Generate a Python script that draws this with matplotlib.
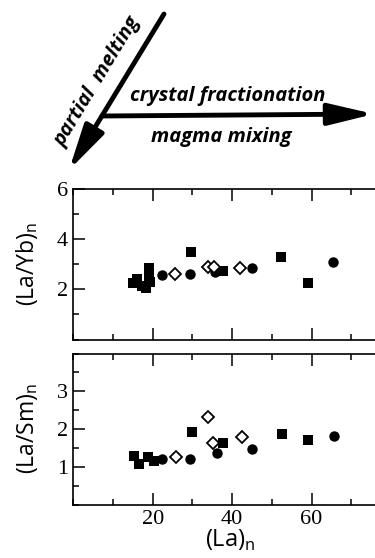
import numpy as np
import matplotlib
matplotlib.use('Agg')
from matplotlib import pyplot as plt
from matplotlib.patches import FancyArrowPatch
from matplotlib.ticker import MultipleLocator

# (La)n vs (La/Yb)n -- upper panel
sq_la_yb = [15.0, 16.0, 17.2, 18.3, 19.0, 19.0, 19.2, 29.6, 37.8, 52.3, 59.0]
sq_yb = [2.25, 2.40, 2.15, 2.05, 2.85, 2.55, 2.30, 3.50, 2.73, 3.27, 2.25]
ci_la_yb = [22.4, 29.4, 35.8, 45.1, 65.5]
ci_yb = [2.58, 2.62, 2.70, 2.87, 3.07]
di_la_yb = [25.6, 34.0, 35.5, 41.9]
di_yb = [2.62, 2.91, 2.90, 2.87]

# (La)n vs (La/Sm)n -- lower panel
sq_la_sm = [15.3, 16.6, 18.7, 20.2, 29.8, 37.8, 52.5, 59.2]
sq_sm = [1.28, 1.08, 1.26, 1.15, 1.91, 1.62, 1.86, 1.71]
ci_la_sm = [22.4, 29.3, 36.2, 45.1, 65.7]
ci_sm = [1.21, 1.21, 1.36, 1.46, 1.81]
di_la_sm = [25.8, 34.0, 35.3, 42.4]
di_sm = [1.27, 2.32, 1.62, 1.79]

W, H = 375, 558
fig = plt.figure(figsize=(W / 100, H / 100), dpi=100)


def fx(x):
    return x / W


def fy(y):
    return 1 - y / H


left, right = 73.3, 387.0
ax1 = fig.add_axes([fx(left), fy(339.5), fx(right - left), (339.5 - 189.0) / H])
ax2 = fig.add_axes([fx(left), fy(504.5), fx(right - left), (504.5 - 353.5) / H])

serif = 'Liberation Serif'
sans = 'Open Sans'

ms_sq, ms_ci, ms_di = 7, 7.5, 6.6
ax1.plot(sq_la_yb, sq_yb, 's', color='black', ms=ms_sq, mew=0)
ax1.plot(ci_la_yb, ci_yb, 'o', color='black', ms=ms_ci, mew=0)
ax1.plot(di_la_yb, di_yb, 'D', mfc='white', mec='black', ms=ms_di, mew=1.3)
ax1.set_ylim(0, 6)
ax1.set_yticks([2, 4, 6])
ax1.yaxis.set_minor_locator(MultipleLocator(1))
ax1.tick_params(labelbottom=False)
ax1.set_ylabel('(La/Yb)$_\\mathregular{n}$', fontsize=16.5, family=sans, labelpad=12)

ax2.plot(sq_la_sm, sq_sm, 's', color='black', ms=ms_sq, mew=0)
ax2.plot(ci_la_sm, ci_sm, 'o', color='black', ms=ms_ci, mew=0)
ax2.plot(di_la_sm, di_sm, 'D', mfc='white', mec='black', ms=ms_di, mew=1.3)
ax2.set_ylim(0, 4)
ax2.set_yticks([1, 2, 3])
ax2.yaxis.set_minor_locator(MultipleLocator(0.5))
ax2.set_ylabel('(La/Sm)$_\\mathregular{n}$', fontsize=16.5, family=sans, labelpad=12)
ax2.set_xlabel('(La)$_\\mathregular{n}$', fontsize=17, family=sans, labelpad=-1)

for ax in (ax1, ax2):
    ax.set_xlim(0, 79)
    ax.set_xticks([20, 40, 60])
    ax.xaxis.set_minor_locator(MultipleLocator(10))
    ax.tick_params(which='both', direction='in', top=True, right=True, width=1.1)
    ax.tick_params(which='major', length=8.5, pad=4)
    ax.tick_params(which='minor', length=4.5)
    for s in ax.spines.values():
        s.set_linewidth(1.2)
    for lab in ax.get_xticklabels() + ax.get_yticklabels():
        lab.set_fontfamily(serif)
        lab.set_fontsize(16)

# process arrows at the top
style = dict(arrowstyle='-|>,head_length=2.3,head_width=0.55', color='black',
             lw=3.5, transform=fig.transFigure, mutation_scale=12,
             shrinkA=0, shrinkB=0)
fig.add_artist(FancyArrowPatch((fx(164), fy(14)), (fx(69), fy(170)), **style))
fig.add_artist(FancyArrowPatch((fx(102), fy(116)), (fx(374), fy(114)), **style))

fig.text(fx(228), fy(96), 'crystal fractionation', ha='center', va='center',
         fontsize=14.5, fontweight='bold', fontstyle='italic', family=sans)
fig.text(fx(221), fy(137), 'magma mixing', ha='center', va='center',
         fontsize=14.5, fontweight='bold', fontstyle='italic', family=sans)
fig.text(fx(97), fy(82), 'partial  melting', ha='center', va='center', rotation=58.8,
         fontsize=14.5, fontweight='bold', fontstyle='italic', family=sans)

fig.savefig('out.png', dpi=100)
